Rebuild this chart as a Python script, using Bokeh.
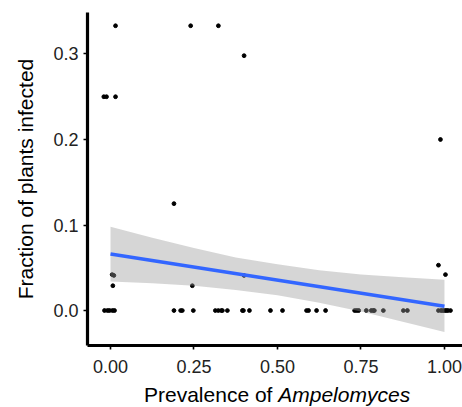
from bokeh.plotting import figure
from bokeh.models import Range1d, FixedTicker, PrintfTickFormatter, Div
from bokeh.layouts import column
from bokeh.embed import file_html
from bokeh.resources import INLINE

# scatter data (prevalence of Ampelomyces, fraction of plants infected)
pts_x = [0.015, 0.24, 0.323,
         0.40,
         -0.02, -0.012, 0.015,
         0.988,
         0.19,
         0.982,
         0.005, 0.01, 1.003,
         0.40,
         0.007, 0.245,
         -0.018, -0.009, -0.003, 0.006, 0.012, 0.19, 0.21, 0.215, 0.248,
         0.314, 0.323, 0.332, 0.335, 0.350, 0.395, 0.398, 0.416, 0.479,
         0.515, 0.587, 0.593, 0.617, 0.644, 0.731, 0.737, 0.743, 0.766,
         0.781, 0.787, 0.790, 0.817, 0.877, 0.889, 0.982, 0.99, 0.995,
         1.0, 1.005, 1.01, 1.018]
pts_y = [0.333, 0.333, 0.333,
         0.298,
         0.25, 0.25, 0.25,
         0.2,
         0.125,
         0.053,
         0.042, 0.041, 0.042,
         0.041,
         0.029, 0.029] + [0.0] * 40

# linear fit and confidence band
fit_x = [0.0, 1.0]
fit_y = [0.066, 0.005]
band_x = [0.0, 0.125, 0.25, 0.375, 0.5, 0.625, 0.75, 0.875, 1.0]
band_lo = [0.034, 0.032, 0.029, 0.024, 0.018, 0.009, -0.001, -0.013, -0.025]
band_hi = [0.098, 0.085, 0.073, 0.062, 0.054, 0.047, 0.042, 0.039, 0.036]

x_ticks = [0.0, 0.25, 0.5, 0.75, 1.0]
y_ticks = [0.0, 0.1, 0.2, 0.3]

FONT = "Liberation Sans"

p = figure(width=462, height=383, output_backend="svg", toolbar_location=None,
           x_range=Range1d(-0.0689, 1.054), y_range=Range1d(-0.0409, 0.3485),
           min_border_left=87, min_border_right=0, min_border_top=12,
           min_border_bottom=38)
p.outline_line_color = None
p.grid.visible = False
p.background_fill_color = "white"

p.scatter(pts_x, pts_y, size=3.8, color="black")
p.varea(x=band_x, y1=band_lo, y2=band_hi, fill_color="#999999", fill_alpha=0.4)
p.line(fit_x, fit_y, line_color="#3366FF", line_width=3.6)

for ax in (p.xaxis[0], p.yaxis[0]):
    ax.axis_line_width = 3.2
    ax.axis_line_color = "black"
    ax.major_tick_line_color = "black"
    ax.major_tick_line_width = 1.6
    ax.major_tick_in = 0
    ax.major_tick_out = 4
    ax.minor_tick_line_color = None
    ax.major_label_text_font = FONT
    ax.major_label_text_font_size = "18px"
    ax.major_label_text_color = "#222222"
    ax.axis_label_text_font = FONT
    ax.axis_label_text_font_size = "21px"
    ax.axis_label_text_font_style = "normal"
    ax.axis_label_text_color = "black"

p.xaxis.ticker = FixedTicker(ticks=x_ticks)
p.xaxis.formatter = PrintfTickFormatter(format="%.2f")
p.xaxis.major_label_standoff = 10
p.yaxis.ticker = FixedTicker(ticks=y_ticks)
p.yaxis.formatter = PrintfTickFormatter(format="%.1f")
p.yaxis.major_label_standoff = 5
p.yaxis.axis_label = "Fraction of plants infected"
p.yaxis.axis_label_standoff = 13

xlabel = Div(
    text='<div style="padding-left:144px; font-family:\'Liberation Sans\'; '
         'font-size:21px; line-height:24px; white-space:nowrap; color:black;">'
         'Prevalence of <i>Ampelomyces</i></div>',
    width=462, height=24, margin=0)

layout = column(p, xlabel, spacing=0)
open("out.html", "w").write(file_html(layout, INLINE))
